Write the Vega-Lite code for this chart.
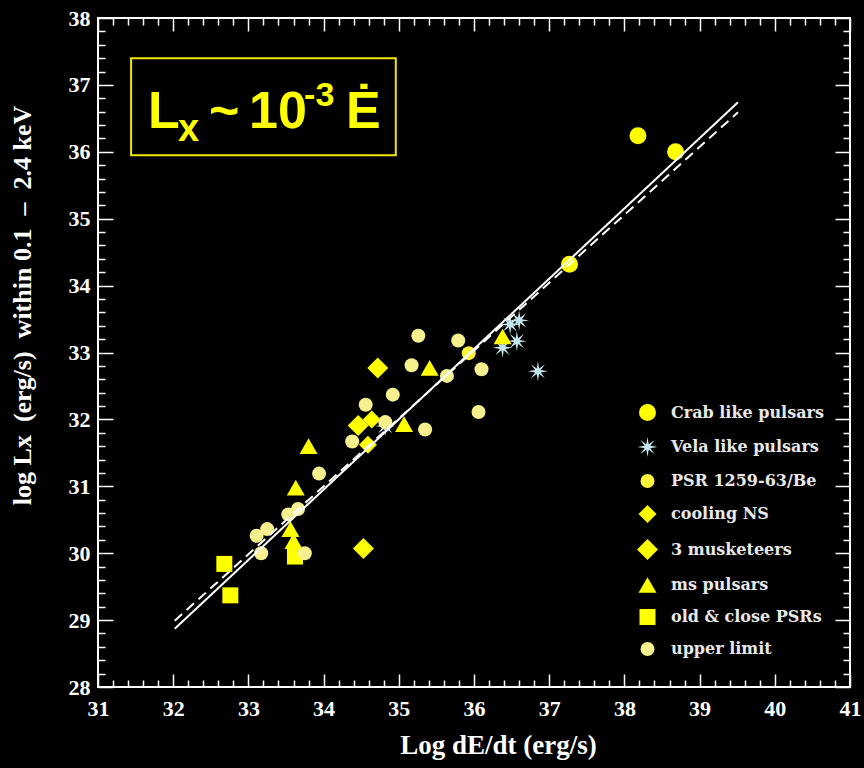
{
  "$schema": "https://vega.github.io/schema/vega-lite/v6.json",
  "autosize": {"type": "none"},
  "width": 752,
  "height": 669,
  "padding": {"left": 98, "top": 18, "right": 14, "bottom": 81},
  "background": "black",
  "config": {
    "view": {"stroke": "white", "strokeWidth": 2, "fill": "black"},
    "axis": {
      "domain": false,
      "grid": false,
      "tickColor": "white",
      "tickWidth": 1.5,
      "labelColor": "white",
      "labelFont": "Liberation Serif",
      "labelFontWeight": "bold",
      "labelFontSize": 22,
      "titleColor": "white",
      "titleFont": "Liberation Serif",
      "titleFontWeight": "bold",
      "labelOverlap": false,
      "labelFlush": false
    }
  },
  "datasets": {
    "pts": [
      {"type": "Crab like pulsars", "edot": 38.18, "lx": 36.24},
      {"type": "Crab like pulsars", "edot": 38.68, "lx": 36.0},
      {"type": "Crab like pulsars", "edot": 37.27, "lx": 34.32},
      {"type": "Vela like pulsars", "edot": 36.48, "lx": 33.42},
      {"type": "Vela like pulsars", "edot": 36.6, "lx": 33.48},
      {"type": "Vela like pulsars", "edot": 36.57, "lx": 33.17},
      {"type": "Vela like pulsars", "edot": 36.38, "lx": 33.07},
      {"type": "Vela like pulsars", "edot": 36.85, "lx": 32.72},
      {"type": "Vela like pulsars", "edot": 34.82, "lx": 31.9},
      {"type": "PSR 1259-63/Be", "edot": 35.93, "lx": 32.99},
      {"type": "cooling NS", "edot": 34.64, "lx": 32.0},
      {"type": "cooling NS", "edot": 34.59, "lx": 31.62},
      {"type": "3 musketeers", "edot": 34.53, "lx": 30.07},
      {"type": "3 musketeers", "edot": 34.72, "lx": 32.77},
      {"type": "3 musketeers", "edot": 34.46, "lx": 31.91},
      {"type": "ms pulsars", "edot": 33.8, "lx": 31.6},
      {"type": "ms pulsars", "edot": 33.63, "lx": 30.98},
      {"type": "ms pulsars", "edot": 33.56, "lx": 30.36},
      {"type": "ms pulsars", "edot": 33.6, "lx": 30.18},
      {"type": "ms pulsars", "edot": 35.41, "lx": 32.77},
      {"type": "ms pulsars", "edot": 35.07, "lx": 31.93},
      {"type": "ms pulsars", "edot": 36.38, "lx": 33.24},
      {"type": "old & close PSRs", "edot": 32.68, "lx": 29.84},
      {"type": "old & close PSRs", "edot": 32.76, "lx": 29.37},
      {"type": "old & close PSRs", "edot": 33.62, "lx": 29.95},
      {"type": "upper limit", "edot": 35.26, "lx": 33.25},
      {"type": "upper limit", "edot": 35.79, "lx": 33.18},
      {"type": "upper limit", "edot": 36.1, "lx": 32.75},
      {"type": "upper limit", "edot": 35.64, "lx": 32.65},
      {"type": "upper limit", "edot": 35.17, "lx": 32.81},
      {"type": "upper limit", "edot": 34.92, "lx": 32.37},
      {"type": "upper limit", "edot": 34.56, "lx": 32.22},
      {"type": "upper limit", "edot": 34.82, "lx": 31.96},
      {"type": "upper limit", "edot": 35.35, "lx": 31.85},
      {"type": "upper limit", "edot": 36.06, "lx": 32.11},
      {"type": "upper limit", "edot": 34.38, "lx": 31.67},
      {"type": "upper limit", "edot": 33.94, "lx": 31.19},
      {"type": "upper limit", "edot": 33.66, "lx": 30.66},
      {"type": "upper limit", "edot": 33.53, "lx": 30.58},
      {"type": "upper limit", "edot": 33.25, "lx": 30.36},
      {"type": "upper limit", "edot": 33.11, "lx": 30.26},
      {"type": "upper limit", "edot": 33.17, "lx": 30.0},
      {"type": "upper limit", "edot": 33.75, "lx": 30.0}
    ],
    "fits": [
      {"fit": "solid", "edot": 32.02, "lx": 28.87},
      {"fit": "solid", "edot": 39.51, "lx": 36.74},
      {"fit": "dashed", "edot": 32.02, "lx": 28.99},
      {"fit": "dashed", "edot": 39.51, "lx": 36.59}
    ],
    "box": [
      {"x1": 31.44, "x2": 34.96, "y1": 37.4, "y2": 35.95, "L": "L", "sub": "x", "mid": "~", "ten": "10", "exp": "-3", "E": "Ė"}
    ]
  },
  "layer": [
    {
      "data": {"name": "pts"},
      "mark": {"type": "point", "filled": true, "opacity": 1, "strokeWidth": 0},
      "encoding": {
        "x": {
          "field": "edot", "type": "quantitative",
          "scale": {"domain": [31, 41], "nice": false, "zero": false},
          "axis": {
            "orient": "bottom",
            "values": [31,32,33,34,35,36,37,38,39,40,41],
            "tickSize": -13,
            "labelPadding": 24,
            "title": "Log dE/dt (erg/s)",
            "titleFontSize": 27,
            "titleX": 400,
            "titleY": 66,
            "titleBaseline": "alphabetic"
          }
        },
        "y": {
          "field": "lx", "type": "quantitative",
          "scale": {"domain": [28, 38], "nice": false, "zero": false},
          "axis": {
            "orient": "left",
            "values": [28,29,30,31,32,33,34,35,36,37,38],
            "tickSize": -15,
            "labelPadding": 23,
            "title": "log Lx\u00a0\u00a0(erg/s)\u00a0\u00a0within 0.1\u00a0\u00a0–\u00a0\u00a02.4 keV",
            "titleFontSize": 26,
            "titleX": -76,
            "titleY": 287,
            "titleAngle": -90,
            "titleBaseline": "middle",
            "titleAlign": "center"
          }
        },
        "color": {
          "field": "type", "type": "nominal",
          "scale": {
            "domain": ["Crab like pulsars", "Vela like pulsars", "PSR 1259-63/Be", "cooling NS", "3 musketeers", "ms pulsars", "old & close PSRs", "upper limit"],
            "range": ["#ffff00", "#c4e6ef", "#fff23a", "#ffff00", "#ffff00", "#ffff00", "#ffff00", "#f6f08e"]
          },
          "legend": {
            "orient": "none",
            "legendX": 539,
            "legendY": 386,
            "title": null,
            "labelFont": "DejaVu Serif",
            "labelFontSize": 16,
            "labelFontWeight": "bold",
            "labelColor": "#e8e8e8",
            "labelOffset": 13,
            "rowPadding": 16,
            "symbolStrokeWidth": 0
          }
        },
        "shape": {
          "field": "type", "type": "nominal",
          "scale": {
            "domain": ["Crab like pulsars", "Vela like pulsars", "PSR 1259-63/Be", "cooling NS", "3 musketeers", "ms pulsars", "old & close PSRs", "upper limit"],
            "range": ["circle", "M1,0L0.28,0.12L0.707,0.707L0.12,0.28L0,1L-0.12,0.28L-0.707,0.707L-0.28,0.12L-1,0L-0.28,-0.12L-0.707,-0.707L-0.12,-0.28L0,-1L0.12,-0.28L0.707,-0.707L0.28,-0.12Z", "circle", "diamond", "diamond", "triangle-up", "square", "circle"]
          },
          "legend": {"orient": "none", "legendX": 539, "legendY": 386, "title": null}
        },
        "size": {
          "field": "type", "type": "nominal",
          "scale": {
            "type": "ordinal",
            "domain": ["Crab like pulsars", "Vela like pulsars", "PSR 1259-63/Be", "cooling NS", "3 musketeers", "ms pulsars", "old & close PSRs", "upper limit"],
            "range": [289, 400, 196, 324, 441, 324, 256, 196]
          },
          "legend": {"orient": "none", "legendX": 539, "legendY": 386, "title": null}
        }
      }
    },
    {
      "data": {"name": "fits"},
      "mark": {"type": "line", "color": "white", "strokeWidth": 2},
      "encoding": {
        "x": {
          "field": "edot", "type": "quantitative",
          "axis": {"orient": "top", "values": [31,32,33,34,35,36,37,38,39,40,41], "tickSize": -13, "labels": false, "title": null}
        },
        "y": {
          "field": "lx", "type": "quantitative",
          "axis": {"orient": "right", "values": [28,29,30,31,32,33,34,35,36,37,38], "tickSize": -15, "labels": false, "title": null}
        },
        "detail": {"field": "fit"},
        "strokeDash": {
          "field": "fit", "type": "nominal",
          "scale": {"domain": ["solid", "dashed"], "range": [[1, 0], [10, 6]]},
          "legend": null
        }
      }
    },
    {
      "data": {"name": "box"},
      "mark": {"type": "rect", "fill": null, "stroke": "#f2e600", "strokeWidth": 2},
      "encoding": {
        "x": {
          "field": "x1", "type": "quantitative",
          "axis": {"orient": "bottom", "values": [31.2,31.4,31.6,31.8,32.2,32.4,32.6,32.8,33.2,33.4,33.6,33.8,34.2,34.4,34.6,34.8,35.2,35.4,35.6,35.8,36.2,36.4,36.6,36.8,37.2,37.4,37.6,37.8,38.2,38.4,38.6,38.8,39.2,39.4,39.6,39.8,40.2,40.4,40.6,40.8], "tickSize": -7, "labels": false, "title": null}
        },
        "x2": {"field": "x2"},
        "y": {
          "field": "y1", "type": "quantitative",
          "axis": {"orient": "left", "values": [28.2,28.4,28.6,28.8,29.2,29.4,29.6,29.8,30.2,30.4,30.6,30.8,31.2,31.4,31.6,31.8,32.2,32.4,32.6,32.8,33.2,33.4,33.6,33.8,34.2,34.4,34.6,34.8,35.2,35.4,35.6,35.8,36.2,36.4,36.6,36.8,37.2,37.4,37.6,37.8], "tickSize": -7, "labels": false, "title": null}
        },
        "y2": {"field": "y2"}
      }
    },
    {
      "data": {"name": "box"},
      "encoding": {
        "x": {
          "field": "x1", "type": "quantitative",
          "axis": {"orient": "top", "values": [31.2,31.4,31.6,31.8,32.2,32.4,32.6,32.8,33.2,33.4,33.6,33.8,34.2,34.4,34.6,34.8,35.2,35.4,35.6,35.8,36.2,36.4,36.6,36.8,37.2,37.4,37.6,37.8,38.2,38.4,38.6,38.8,39.2,39.4,39.6,39.8,40.2,40.4,40.6,40.8], "tickSize": -7, "labels": false, "title": null}
        },
        "y": {
          "field": "y2", "type": "quantitative",
          "axis": {"orient": "right", "values": [28.2,28.4,28.6,28.8,29.2,29.4,29.6,29.8,30.2,30.4,30.6,30.8,31.2,31.4,31.6,31.8,32.2,32.4,32.6,32.8,33.2,33.4,33.6,33.8,34.2,34.4,34.6,34.8,35.2,35.4,35.6,35.8,36.2,36.4,36.6,36.8,37.2,37.4,37.6,37.8], "tickSize": -7, "labels": false, "title": null}
        }
      },
      "layer": [
        {
          "mark": {"type": "text", "color": "#ffff00", "font": "Liberation Sans", "fontWeight": "bold", "fontSize": 52, "align": "left", "baseline": "alphabetic", "dx": 17, "dy": -27},
          "encoding": {"text": {"field": "L"}}
        },
        {
          "mark": {"type": "text", "color": "#ffff00", "font": "Liberation Sans", "fontWeight": "bold", "fontSize": 38, "align": "left", "baseline": "alphabetic", "dx": 47, "dy": -14},
          "encoding": {"text": {"field": "sub"}}
        },
        {
          "mark": {"type": "text", "color": "#ffff00", "font": "Liberation Sans", "fontWeight": "bold", "fontSize": 52, "align": "left", "baseline": "alphabetic", "dx": 78, "dy": -27},
          "encoding": {"text": {"field": "mid"}}
        },
        {
          "mark": {"type": "text", "color": "#ffff00", "font": "Liberation Sans", "fontWeight": "bold", "fontSize": 52, "align": "left", "baseline": "alphabetic", "dx": 118, "dy": -27},
          "encoding": {"text": {"field": "ten"}}
        },
        {
          "mark": {"type": "text", "color": "#ffff00", "font": "Liberation Sans", "fontWeight": "bold", "fontSize": 34, "align": "left", "baseline": "alphabetic", "dx": 173, "dy": -49},
          "encoding": {"text": {"field": "exp"}}
        },
        {
          "mark": {"type": "text", "color": "#ffff00", "font": "Liberation Sans", "fontWeight": "bold", "fontSize": 52, "align": "left", "baseline": "alphabetic", "dx": 215, "dy": -27},
          "encoding": {"text": {"field": "E"}}
        }
      ]
    }
  ],
  "resolve": {"axis": {"x": "independent", "y": "independent"}}
}
